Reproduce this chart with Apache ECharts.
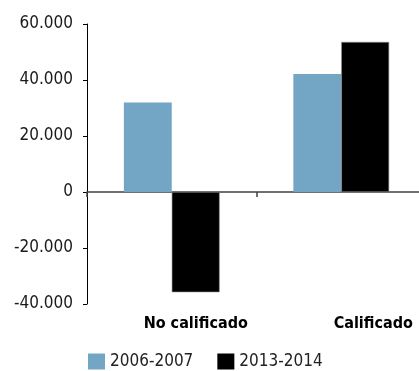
<!DOCTYPE html>
<html>
<head>
<meta charset="utf-8">
<script src="https://cdn.jsdelivr.net/npm/echarts@6/dist/echarts.min.js"></script>
<style>
  html, body { margin: 0; padding: 0; background: #fff; }
  #chart { width: 419px; height: 371px; }
</style>
</head>
<body>
<div id="chart"></div>
<script>
// Categories and series values
const categories = ['No calificado', 'Calificado'];
const seriesNames = ['2006-2007', '2013-2014'];
const values2006 = [32000, 42100];
const values2013 = [-35800, 53600];
const yTicks = [-40000, -20000, 0, 20000, 40000, 60000];

const FONT = "'DejaVu Sans Condensed', 'Liberation Sans Narrow', sans-serif";

// Thousands separator with a dot: 60000 -> "60.000"
function fmt(v) {
  const s = String(Math.abs(v)).replace(/\B(?=(\d{3})+(?!\d))/g, '.');
  return (v < 0 ? '-' : '') + s;
}

const chart = echarts.init(document.getElementById('chart'), null, { renderer: 'canvas' });

chart.setOption({
  animation: false,
  backgroundColor: '#ffffff',
  // plot area runs slightly past the right edge of the canvas
  grid: { left: 87, width: 339, top: 24, height: 280, containLabel: false, outerBoundsMode: 'none' },
  legend: {
    data: seriesNames,
    left: 88,
    top: 353,
    padding: 0,
    itemWidth: 17,
    itemHeight: 16,
    itemGap: 24,
    icon: 'rect',
    itemStyle: { borderWidth: 0 },
    textStyle: { fontFamily: FONT, fontSize: 17, color: '#222' }
  },
  xAxis: [
    {
      // Baseline through zero with the category divider tick
      type: 'category',
      data: categories,
      axisLine: { onZero: true, lineStyle: { color: '#404040', width: 1.5 } },
      axisTick: { show: true, inside: false, length: 5, interval: 0, lineStyle: { color: '#404040', width: 1.5 } },
      axisLabel: { show: false },
      splitLine: { show: false }
    },
    {
      // Category names along the bottom of the plot
      type: 'category',
      data: categories,
      position: 'bottom',
      axisLine: { show: false, onZero: false },
      axisTick: { show: false },
      splitLine: { show: false },
      axisLabel: {
        interval: 0,
        margin: 12,
        formatter: (v, i) => '{c' + i + '|' + v + '}',
        rich: {
          c0: { fontFamily: FONT, fontSize: 16, fontWeight: 'bold', color: '#000', padding: [0, 0, 0, 48] },
          c1: { fontFamily: FONT, fontSize: 16, fontWeight: 'bold', color: '#000', padding: [0, 0, 0, 64] }
        }
      }
    }
  ],
  yAxis: {
    type: 'value',
    min: yTicks[0],
    max: yTicks[yTicks.length - 1],
    interval: 20000,
    axisLine: { show: true, lineStyle: { color: '#000', width: 1 } },
    axisTick: { show: true, length: 4, lineStyle: { color: '#000', width: 1 } },
    splitLine: { show: false },
    axisLabel: {
      margin: 14,
      formatter: fmt,
      fontFamily: FONT,
      fontSize: 17,
      color: '#1a1a1a'
    }
  },
  series: [
    {
      name: seriesNames[0],
      type: 'bar',
      xAxisIndex: 0,
      data: values2006,
      barGap: '0%',
      barCategoryGap: '43.5%',
      itemStyle: { color: '#72a6c4' }
    },
    {
      name: seriesNames[1],
      type: 'bar',
      xAxisIndex: 0,
      data: values2013,
      barGap: '0%',
      barCategoryGap: '43.5%',
      itemStyle: { color: '#000000', borderColor: '#8a8a8a', borderWidth: 0.6 }
    }
  ]
});
</script>
</body>
</html>
